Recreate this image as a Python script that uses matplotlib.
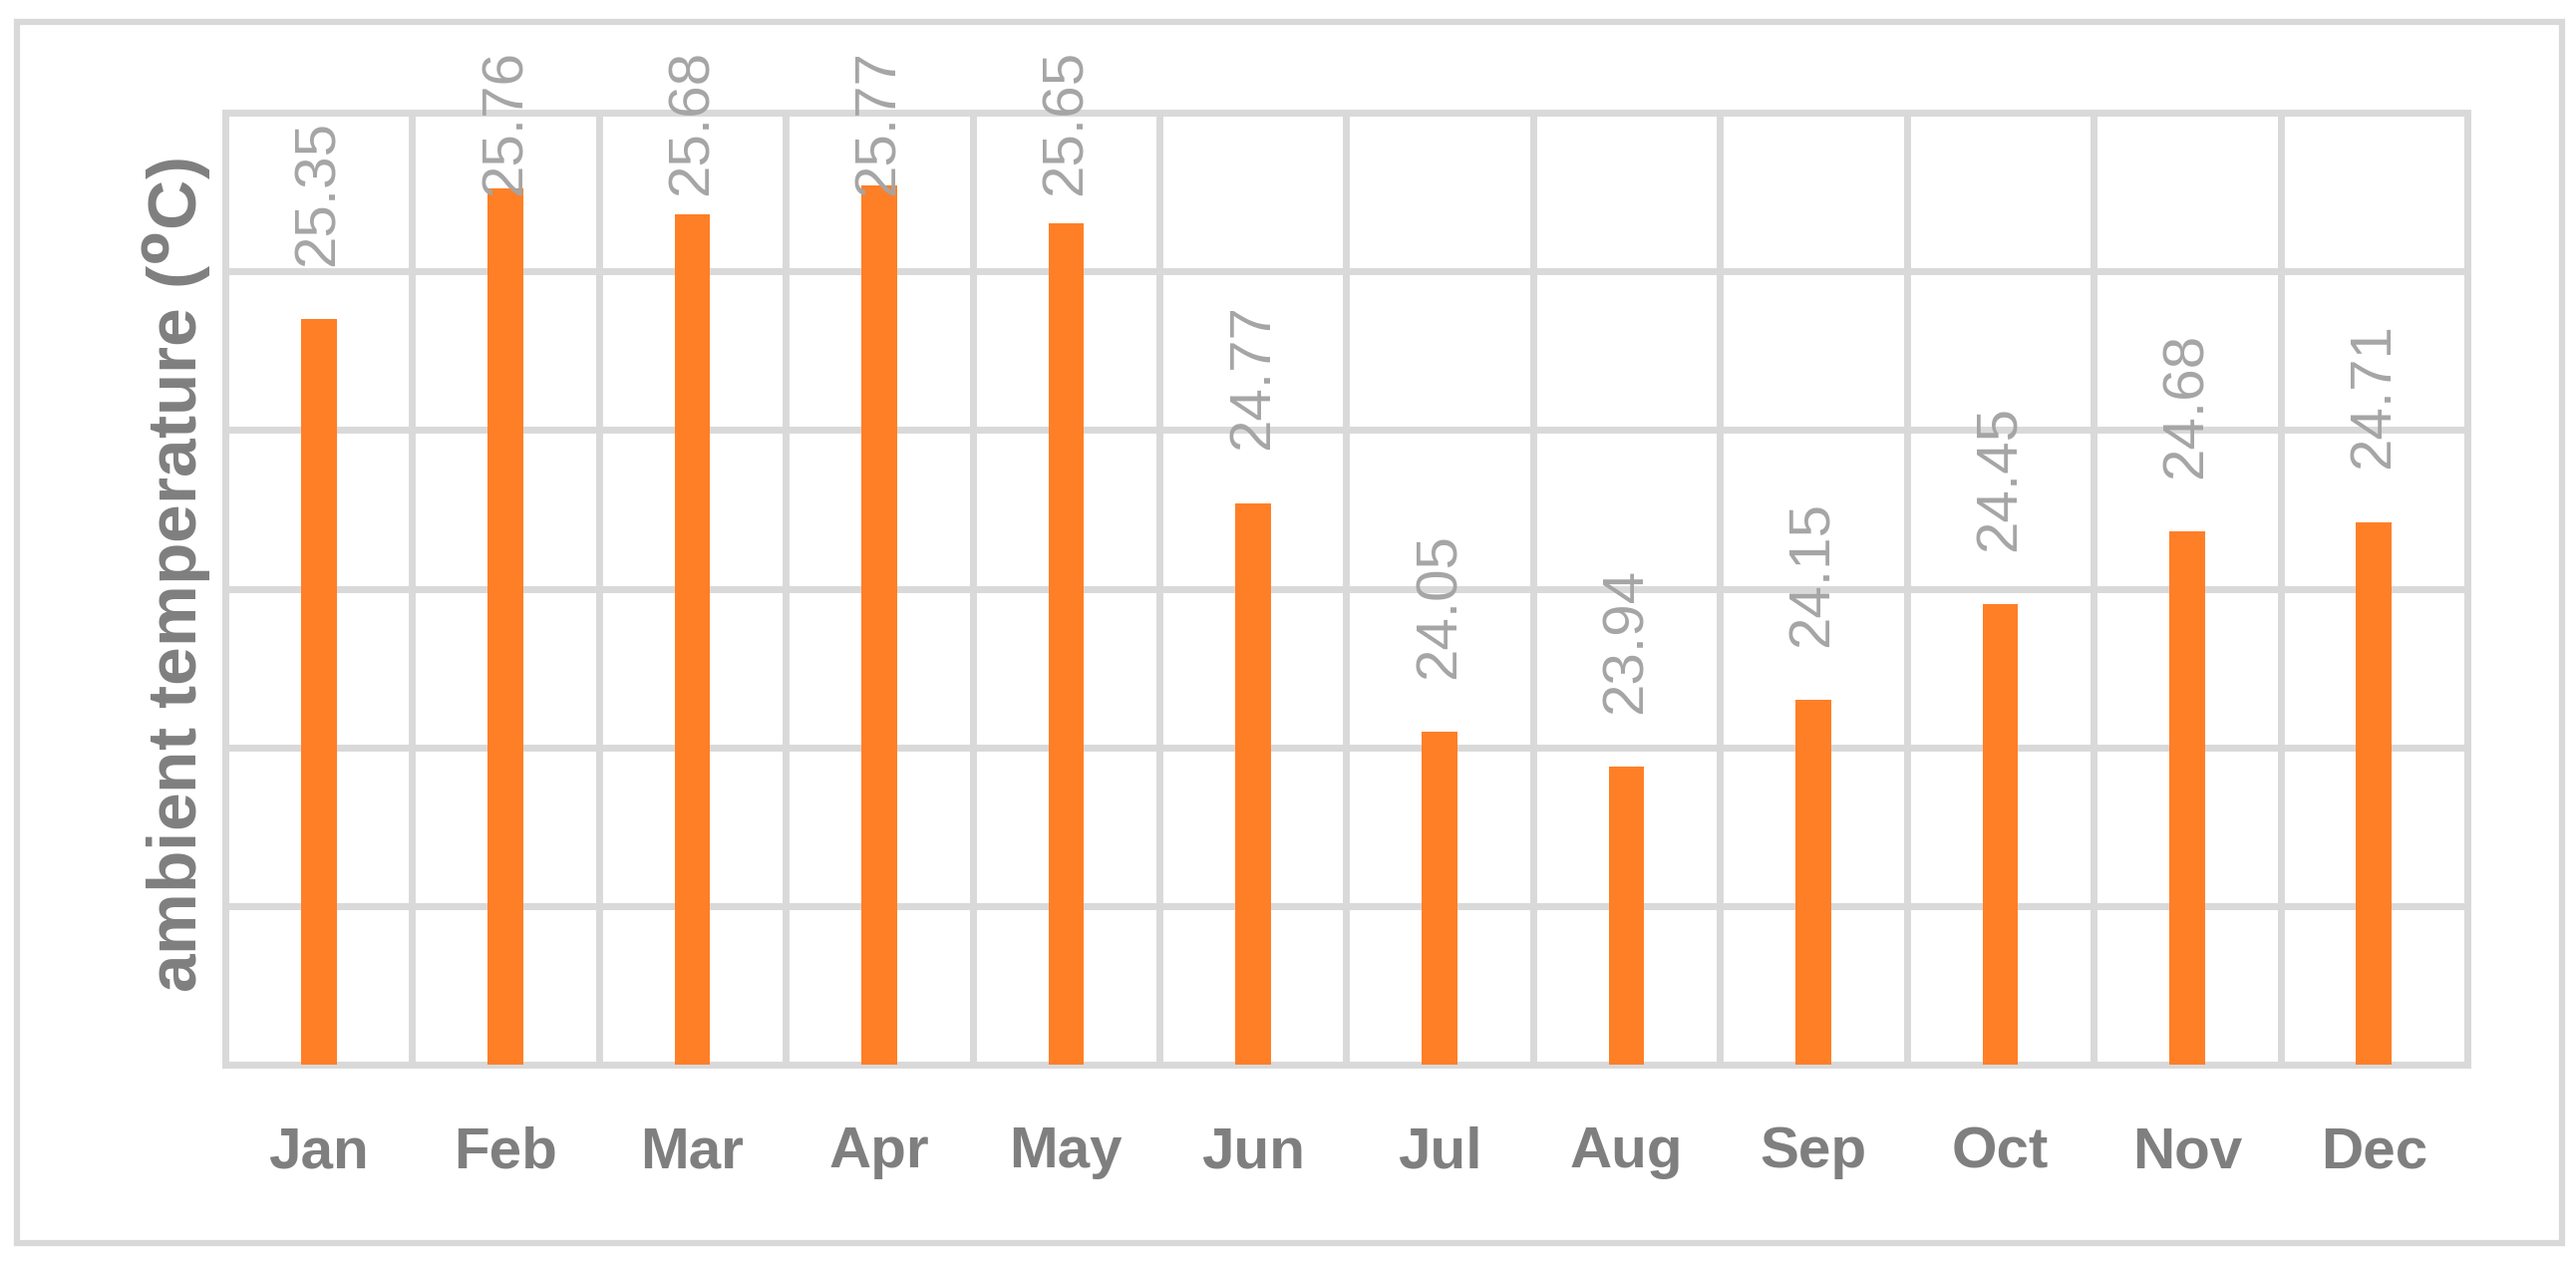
import matplotlib
matplotlib.use("Agg")
import matplotlib.pyplot as plt
from matplotlib.patches import Rectangle

# Monthly mean ambient temperature
months = ["Jan", "Feb", "Mar", "Apr", "May", "Jun",
          "Jul", "Aug", "Sep", "Oct", "Nov", "Dec"]
temps = [25.35, 25.76, 25.68, 25.77, 25.65, 24.77,
         24.05, 23.94, 24.15, 24.45, 24.68, 24.71]
y_min, y_max, y_step = 23.0, 26.0, 0.5

grid_col = "#D9D9D9"
bar_col = "#FF7F27"
label_col = "#7F7F7F"
value_col = "#A5A5A5"

fig = plt.figure(figsize=(25.84, 12.73), dpi=100)
W, H = 2584, 1273

# outer chart border
fig.patches.append(Rectangle((17 / W, 1 - 1247 / H), (2570 - 17) / W, (1247 - 22) / H,
                             transform=fig.transFigure, fill=False,
                             edgecolor=grid_col, linewidth=4.5))

ax = fig.add_axes([226 / W, 1 - 1068 / H, (2475 - 226) / W, (1068 - 113) / H])
x = list(range(len(months)))
ax.bar(x, [t - y_min for t in temps], bottom=y_min, width=0.19, color=bar_col, zorder=3)

ax.set_xlim(-0.5, len(months) - 0.5)
ax.set_ylim(y_min, y_max)
yt = [y_min + i * y_step for i in range(int(round((y_max - y_min) / y_step)) + 1)]
ax.set_yticks(yt)
ax.set_yticklabels([])
ax.set_xticks([i + 0.5 for i in range(-1, len(months))], minor=True)
ax.set_xticks(x)
ax.set_xticklabels(months, fontfamily=["Liberation Sans", "DejaVu Sans"],
                   fontweight="bold", fontsize=42, color=label_col)
ax.tick_params(axis="both", which="both", length=0)
ax.tick_params(axis="x", pad=44)
ax.grid(True, axis="y", which="major", color=grid_col, linewidth=5, zorder=0)
ax.grid(True, axis="x", which="minor", color=grid_col, linewidth=5, zorder=0)
for s in ax.spines.values():
    s.set_color(grid_col)
    s.set_linewidth(5)

# value labels, kept below the top of the chart area
for i, t in enumerate(temps):
    ypos = min(t + 0.167, 25.74)
    ax.text(i, ypos, f"{t:.2f}", rotation=90, ha="center", va="bottom",
            fontfamily=["Liberation Sans", "DejaVu Sans"], fontsize=42,
            color=value_col, clip_on=False, zorder=4)

fig.text(178 / W, 1 - 577 / H, r"ambient temperature ($^{\mathbf{o}}$C)",
         rotation=90, ha="center", va="center",
         fontfamily=["Liberation Sans", "DejaVu Sans"], fontweight="bold",
         fontsize=50, color=label_col)

fig.savefig("out.png", dpi=100)
